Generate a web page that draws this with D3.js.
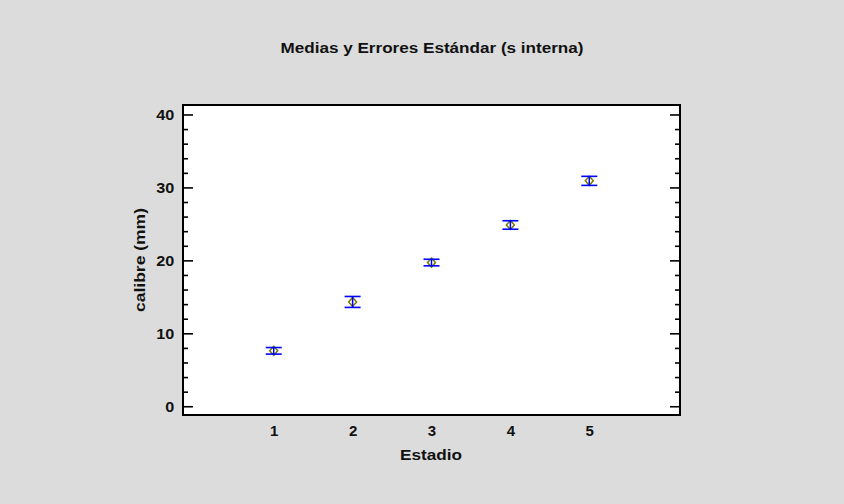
<!DOCTYPE html>
<html>
<head>
<meta charset="utf-8">
<script src="https://cdn.jsdelivr.net/npm/d3@7"></script>
<style>
  html, body { margin: 0; padding: 0; background: #dcdcdc; }
  svg { display: block; }
  text { font-family: "Liberation Sans", Arial, sans-serif; font-weight: bold; fill: #111; }
</style>
</head>
<body>
<svg id="chart" width="844" height="504"></svg>
<script>
// Estadio categories with mean calibre and standard error (pooled s)
const estadios = [1, 2, 3, 4, 5];
const medias = [7.6, 14.3, 19.7, 24.85, 30.9];
const errores = [0.45, 0.75, 0.45, 0.58, 0.62];
const yTicks = [0, 10, 20, 30, 40];
const yMinorTicks = [2, 4, 6, 8, 12, 14, 16, 18, 22, 24, 26, 28, 32, 34, 36, 38];

const svg = d3.select("#chart");

const plot = { left: 183, right: 680, top: 105, bottom: 415 };

const x = d3.scaleLinear().domain([-0.15, 6.15]).range([plot.left, plot.right]);
const y = d3.scaleLinear().domain([-1.2, 41.3]).range([plot.bottom, plot.top]);

// background
svg.append("rect").attr("x", 0).attr("y", 0).attr("width", 844).attr("height", 504).attr("fill", "#dcdcdc");

// plot area
svg.append("rect")
  .attr("x", plot.left).attr("y", plot.top)
  .attr("width", plot.right - plot.left).attr("height", plot.bottom - plot.top)
  .attr("fill", "#ffffff");

// left axis: major + minor ticks pointing inward
const leftAxis = d3.axisLeft(y).tickValues(yTicks).tickSizeInner(-10).tickSizeOuter(0).tickPadding(8).tickFormat(d3.format("d"));
const gl = svg.append("g").attr("transform", `translate(${plot.left},0)`).call(leftAxis);
gl.select(".domain").remove();
gl.selectAll(".tick line").attr("stroke", "#000").attr("stroke-width", 1.6);
gl.selectAll(".tick text").style("font-size", "15px").attr("fill", "#111")
  .attr("transform", "scale(1.08,1)");

const leftMinor = d3.axisLeft(y).tickValues(yMinorTicks).tickSizeInner(-5).tickSizeOuter(0).tickFormat("");
const glm = svg.append("g").attr("transform", `translate(${plot.left},0)`).call(leftMinor);
glm.select(".domain").remove();
glm.selectAll(".tick line").attr("stroke", "#000").attr("stroke-width", 1.6);

// right axis mirrored ticks
const rightAxis = d3.axisRight(y).tickValues(yTicks).tickSizeInner(-10).tickSizeOuter(0).tickFormat("");
const gr = svg.append("g").attr("transform", `translate(${plot.right},0)`).call(rightAxis);
gr.select(".domain").remove();
gr.selectAll(".tick line").attr("stroke", "#000").attr("stroke-width", 1.6);

const rightMinor = d3.axisRight(y).tickValues(yMinorTicks).tickSizeInner(-5).tickSizeOuter(0).tickFormat("");
const grm = svg.append("g").attr("transform", `translate(${plot.right},0)`).call(rightMinor);
grm.select(".domain").remove();
grm.selectAll(".tick line").attr("stroke", "#000").attr("stroke-width", 1.6);

// bottom axis: labels only
const bottomAxis = d3.axisBottom(x).tickValues(estadios).tickSize(0).tickPadding(10).tickFormat(d3.format("d"));
const gb = svg.append("g").attr("transform", `translate(0,${plot.bottom})`).call(bottomAxis);
gb.select(".domain").remove();
gb.selectAll(".tick text").style("font-size", "15px").attr("fill", "#111")
  .attr("transform", "scale(1.08,1)").attr("x", 0);
gb.selectAll(".tick text").attr("transform", null);

// frame
svg.append("rect")
  .attr("x", plot.left).attr("y", plot.top)
  .attr("width", plot.right - plot.left).attr("height", plot.bottom - plot.top)
  .attr("fill", "none").attr("stroke", "#000").attr("stroke-width", 2);

// data
const data = estadios.map((e, i) => ({ e, m: medias[i], se: errores[i] }));
const capHalf = 8;
const g = svg.append("g");

// mean markers: open olive diamonds
g.selectAll("path.marker").data(data).join("path")
  .attr("class", "marker")
  .attr("d", d => {
    const cx = x(d.e), cy = y(d.m);
    return `M${cx},${cy - 4.5}L${cx + 4},${cy}L${cx},${cy + 4.5}L${cx - 4},${cy}Z`;
  })
  .attr("fill", "none").attr("stroke", "#7a7a00").attr("stroke-width", 1.5);

// error bars
g.selectAll("line.stem").data(data).join("line")
  .attr("class", "stem")
  .attr("x1", d => x(d.e)).attr("x2", d => x(d.e))
  .attr("y1", d => y(d.m + d.se)).attr("y2", d => y(d.m - d.se))
  .attr("stroke", "#0000ff").attr("stroke-width", 1.5);

g.selectAll("line.capTop").data(data).join("line")
  .attr("class", "capTop")
  .attr("x1", d => x(d.e) - capHalf).attr("x2", d => x(d.e) + capHalf)
  .attr("y1", d => y(d.m + d.se)).attr("y2", d => y(d.m + d.se))
  .attr("stroke", "#0000ff").attr("stroke-width", 1.6);

g.selectAll("line.capBot").data(data).join("line")
  .attr("class", "capBot")
  .attr("x1", d => x(d.e) - capHalf).attr("x2", d => x(d.e) + capHalf)
  .attr("y1", d => y(d.m - d.se)).attr("y2", d => y(d.m - d.se))
  .attr("stroke", "#0000ff").attr("stroke-width", 1.6);

// titles
svg.append("text").attr("x", 432).attr("y", 53).attr("text-anchor", "middle")
  .style("font-size", "14px")
  .attr("textLength", 303).attr("lengthAdjust", "spacingAndGlyphs")
  .text("Medias y Errores Estándar (s interna)");

svg.append("text").attr("x", 431).attr("y", 460).attr("text-anchor", "middle")
  .style("font-size", "15px")
  .attr("textLength", 62).attr("lengthAdjust", "spacingAndGlyphs")
  .text("Estadio");

svg.append("text")
  .attr("transform", `translate(145,${(plot.top + plot.bottom) / 2}) rotate(-90)`)
  .attr("text-anchor", "middle")
  .style("font-size", "15px")
  .attr("textLength", 104).attr("lengthAdjust", "spacingAndGlyphs")
  .text("calibre (mm)");
</script>
</body>
</html>
